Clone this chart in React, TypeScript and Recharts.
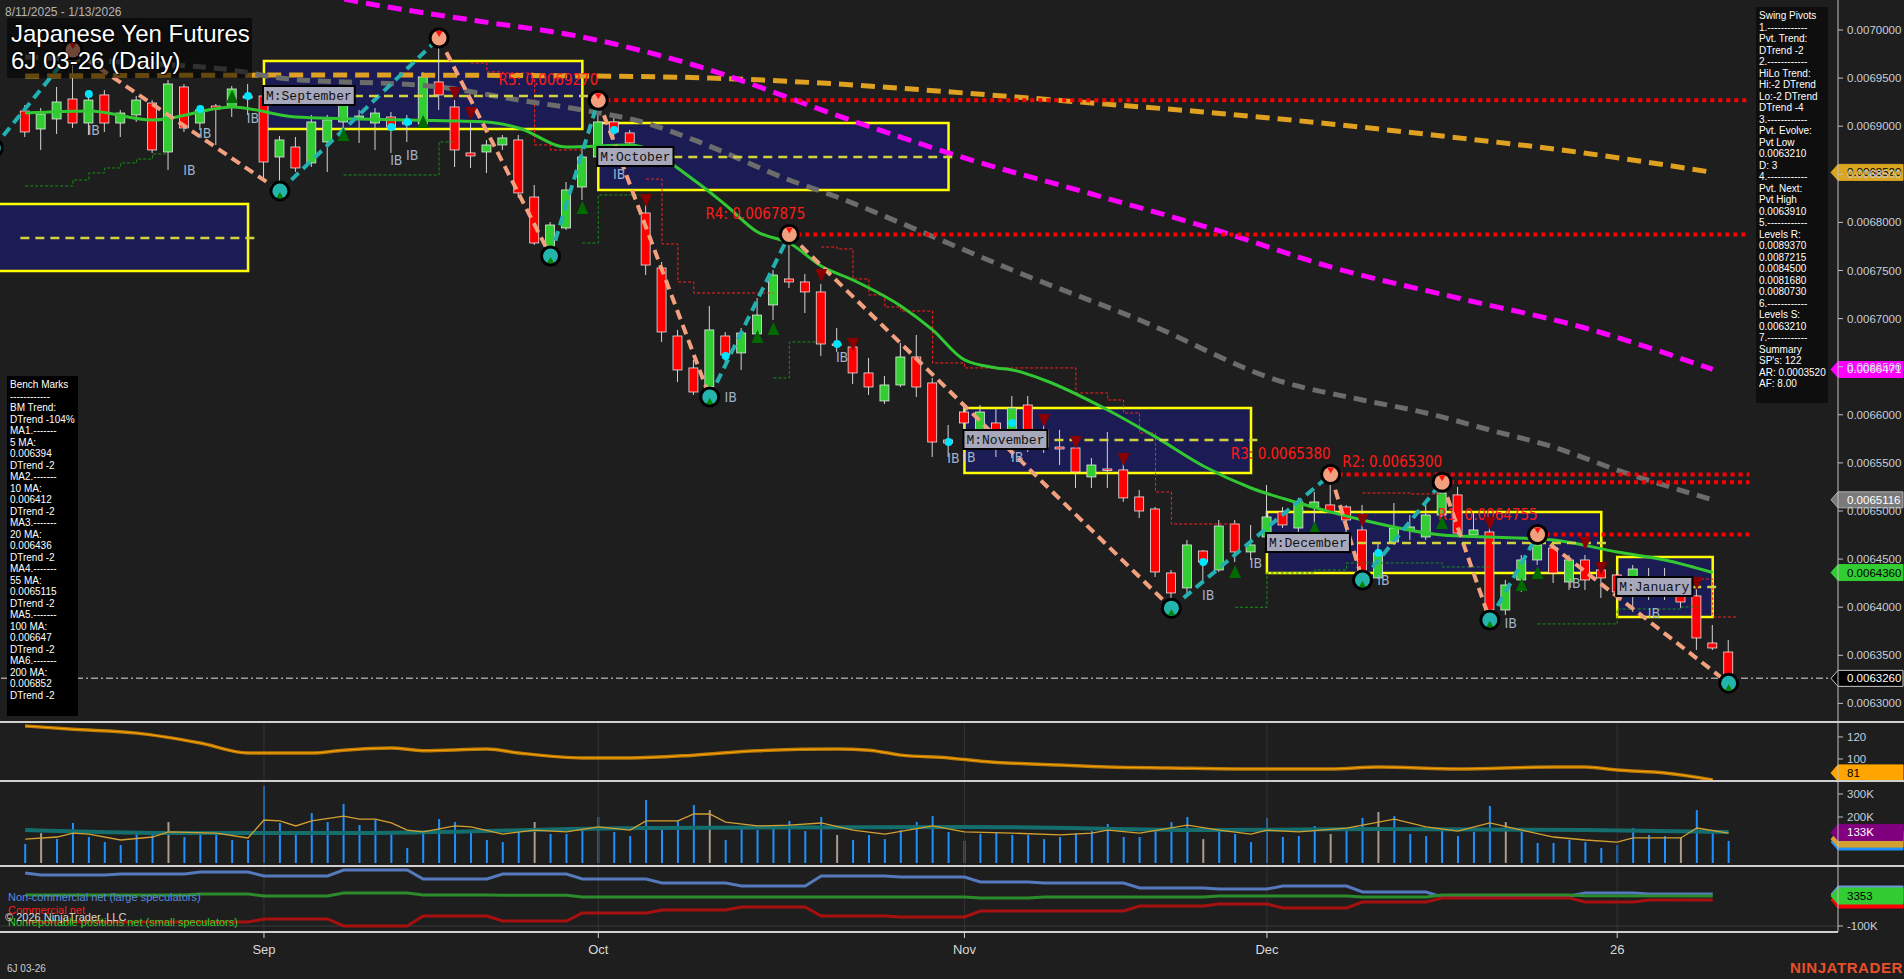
import React from "react";
import {
  ComposedChart,
  Bar,
  Line,
  XAxis,
  YAxis,
  ReferenceArea,
  ReferenceLine,
  ReferenceDot,
  Cell,
} from "recharts";

const FONT = "'Liberation Sans', Arial, sans-serif";
const NARROW = "'Liberation Sans Narrow', 'DejaVu Sans Condensed', 'Liberation Sans', Arial, sans-serif";
const MONO = "'Liberation Mono', 'Courier New', monospace";

// daily bars 8/11/2025 .. 1/13/2026 (bar index 0..107)
const opens = [
  0.0069158, 0.0068971, 0.0069075, 0.0069283, 0.0069033, 0.0069325, 0.0069033, 0.0069117, 0.0069241, 0.0068732,
  0.0069408, 0.0069033, 0.006921, 0.00692, 0.0069293, 0.0069314, 0.006868, 0.0068784, 0.0068618, 0.0068836,
  0.0069044, 0.0069085, 0.0069033, 0.0069096, 0.0069065, 0.0069023, 0.006946, 0.00692, 0.0068722, 0.0068732,
  0.0068805, 0.0068857, 0.0068264, 0.0067682, 0.0067942, 0.0068368, 0.006868, 0.0069044, 0.006893, 0.0068098,
  0.0067526, 0.0066819, 0.0066487, 0.0066289, 0.0066819, 0.0066643, 0.006684, 0.0067142, 0.0067412, 0.0067381,
  0.0067277, 0.0066736, 0.0066705, 0.0066435, 0.0066144, 0.006631, 0.0066601, 0.0066331, 0.0065738, 0.0066029,
  0.0065843, 0.0065915, 0.0065665, 0.0066102, 0.0065843, 0.0065665, 0.0065655, 0.0065354, 0.0065437, 0.0065427,
  0.0065146, 0.0065021, 0.0064356, 0.00642, 0.0064584, 0.0064387, 0.0064865, 0.0064574, 0.006473, 0.006499,
  0.0064823, 0.0065042, 0.0065063, 0.0065042, 0.0064803, 0.0064304, 0.0064678, 0.0064803, 0.006473, 0.0064958,
  0.0065167, 0.0064751, 0.0064782, 0.0063971, 0.0064283, 0.0064491, 0.0064615, 0.0064262, 0.0064491, 0.0064387,
  0.0064335, 0.0064148, 0.0064231, 0.0064179, 0.006421, 0.0064117, 0.0063628, 0.0063534,
];
const highs = [
  0.006922, 0.0069189, 0.0069408, 0.0069792, 0.0069356, 0.0069376, 0.0069169, 0.0069314, 0.0069272, 0.006948,
  0.0069439, 0.006922, 0.0069231, 0.0069418, 0.0069439, 0.0069356, 0.0068898, 0.0068888, 0.0069117, 0.0069117,
  0.0069293, 0.0069169, 0.0069189, 0.0069148, 0.0069117, 0.0069564, 0.0069917, 0.0069272, 0.0069065, 0.0068857,
  0.0068909, 0.0068909, 0.0068389, 0.0068004, 0.006842, 0.0068784, 0.006927, 0.0069117, 0.0068961, 0.0068233,
  0.0067589, 0.0066882, 0.006657, 0.0067131, 0.0066861, 0.0066902, 0.0067214, 0.0067505, 0.0067875, 0.0067464,
  0.006736, 0.0066902, 0.0066747, 0.0066591, 0.0066403, 0.0066747, 0.006683, 0.0066382, 0.0065894, 0.0066102,
  0.0066102, 0.0066071, 0.0066195, 0.0066195, 0.0065946, 0.0065843, 0.0065759, 0.0065551, 0.0065821, 0.0065562,
  0.0065218, 0.0065042, 0.0064387, 0.0064699, 0.0064595, 0.0064907, 0.0064907, 0.0064855, 0.006527, 0.0065042,
  0.0065136, 0.0065198, 0.006538, 0.0065063, 0.0065063, 0.0064667, 0.0065083, 0.0064958, 0.0065063, 0.00653,
  0.006525, 0.0064979, 0.0064907, 0.0064283, 0.0064543, 0.0064755, 0.0064699, 0.0064543, 0.0064543, 0.006447,
  0.0064387, 0.0064439, 0.0064408, 0.0064408, 0.0064262, 0.0064252, 0.0063815, 0.0063659,
];
const lows = [
  0.0068888, 0.0068753, 0.0068919, 0.0068982, 0.0068909, 0.006894, 0.0068888, 0.0069044, 0.0068722, 0.0068545,
  0.006894, 0.0068961, 0.0068805, 0.0069096, 0.0069117, 0.0068462, 0.0068327, 0.0068524, 0.0068576, 0.0068524,
  0.0068982, 0.0068826, 0.0068753, 0.0068722, 0.0068836, 0.0068982, 0.0069169, 0.0068576, 0.0068566, 0.0068514,
  0.0068753, 0.0068254, 0.0067765, 0.0067651, 0.0067921, 0.0068233, 0.0068649, 0.0068857, 0.0068597, 0.0067453,
  0.0066757, 0.0066341, 0.0066206, 0.0066185, 0.0066549, 0.0066466, 0.0066819, 0.0066986, 0.0067318, 0.0067058,
  0.0066612, 0.0066653, 0.006632, 0.0066206, 0.0066112, 0.0066289, 0.0066185, 0.0065562, 0.0065562, 0.0065738,
  0.0065665, 0.0065562, 0.0065551, 0.0065613, 0.0065603, 0.0065478, 0.0065239, 0.0065239, 0.0065239, 0.0065094,
  0.0064927, 0.0064314, 0.006399, 0.0064127, 0.0064262, 0.0064366, 0.006447, 0.0064491, 0.0064699, 0.0064823,
  0.0064782, 0.0064875, 0.0064979, 0.0064615, 0.0064283, 0.0064295, 0.0064647, 0.0064699, 0.0064699, 0.0064938,
  0.0064751, 0.006473, 0.0063867, 0.0063919, 0.0064158, 0.0064439, 0.0064252, 0.0064179, 0.0064179, 0.0064096,
  0.0064075, 0.006395, 0.0064075, 0.0064075, 0.0063992, 0.0063555, 0.0063555, 0.006321,
];
const closes = [
  0.006894, 0.0069127, 0.0069252, 0.0069033, 0.0069272, 0.0069033, 0.0069137, 0.0069272, 0.0068753, 0.0069439,
  0.0068982, 0.0069169, 0.0069179, 0.0069387, 0.0069314, 0.0068628, 0.0068857, 0.0068566, 0.0069044, 0.0069065,
  0.0069241, 0.0069106, 0.0069137, 0.0068992, 0.0069023, 0.0069512, 0.0069325, 0.0068753, 0.0068691, 0.0068805,
  0.0068878, 0.0068306, 0.0067786, 0.0067973, 0.0068337, 0.006868, 0.0069044, 0.006894, 0.0068826, 0.0067557,
  0.0066861, 0.0066466, 0.0066237, 0.0066882, 0.0066622, 0.006685, 0.0067037, 0.0067453, 0.0067381, 0.0067277,
  0.0066736, 0.0066726, 0.0066435, 0.0066289, 0.006631, 0.0066601, 0.0066289, 0.0065717, 0.0065707, 0.0065915,
  0.0066029, 0.0065665, 0.0066071, 0.0065686, 0.0065665, 0.0065645, 0.0065406, 0.0065478, 0.0065427, 0.0065136,
  0.0065, 0.0064366, 0.0064148, 0.0064647, 0.006447, 0.0064844, 0.0064574, 0.0064647, 0.0064938, 0.0064855,
  0.0065094, 0.0065094, 0.006499, 0.0064907, 0.0064366, 0.0064564, 0.0064823, 0.0064834, 0.0064958, 0.0065187,
  0.0064771, 0.0064803, 0.0063971, 0.0064231, 0.0064491, 0.0064647, 0.0064356, 0.0064491, 0.0064283, 0.0064304,
  0.0064158, 0.0064397, 0.0064179, 0.0064262, 0.0064054, 0.006368, 0.0063576, 0.006326,
];
const volumeK = [
  83, 130, 104, 174, 113, 91, 78, 126, 130, 178, 113, 130, 130, 100, 100, 335, 174, 122, 217, 178,
  257, 165, 187, 135, 65, 135, 191, 178, 135, 100, 91, 148, 178, 126, 126, 152, 200, 135, 117, 274,
  161, 183, 252, 230, 100, 157, 143, 165, 183, 139, 200, 122, 100, 122, 104, 143, 178, 204, 135, 96,
  126, 135, 122, 122, 104, 113, 130, 139, 170, 113, 113, 143, 178, 200, 104, 139, 126, 91, 196, 113,
  117, 161, 126, 152, 196, 222, 204, 126, 117, 152, 117, 135, 248, 178, 135, 87, 87, 100, 91, 65,
  78, 152, 122, 117, 113, 230, 130, 96,
];
const grayVolumeBars = [1, 9, 32, 43, 51, 74, 82, 85, 93, 104];

const monthTickIdx = [15, 36, 59, 78, 100];
const monthTickLabels = ["Sep", "Oct", "Nov", "Dec", "26"];
const priceTicks = [
  0.0063, 0.00635, 0.0064, 0.00645, 0.0065, 0.00655, 0.0066, 0.00665, 0.0067, 0.00675, 0.0068, 0.00685,
  0.0069, 0.00695, 0.007,
];

// moving averages, read at sample bars
const ma20Idx = [0, 4, 8, 13, 17, 24, 29, 31, 34, 38, 42, 44, 46, 48, 50, 52, 55, 57, 59, 61, 62, 64, 68, 71, 74, 77, 80, 84, 89, 92, 96, 100, 103, 106];
const ma20Val = [
  0.0069137, 0.0069158, 0.0069065, 0.00692, 0.0069096, 0.0069065, 0.0069044, 0.0068982, 0.0068784, 0.0068805,
  0.0068441, 0.0068181, 0.00679, 0.0067786, 0.0067547, 0.0067401, 0.0067131, 0.0066882, 0.006657, 0.0066487,
  0.0066466, 0.0066362, 0.006605, 0.006577, 0.0065468, 0.0065239, 0.0065083, 0.0064907, 0.0064751, 0.006473,
  0.0064699, 0.0064574, 0.0064491, 0.006436,
];
const ma55Idx = [0, 7, 13, 16, 26, 31, 35, 39, 42, 48, 51, 55, 59, 62, 70, 79, 84, 88, 92, 96, 100, 106];
const ma55Val = [
  0.006972, 0.0069657, 0.0069584, 0.0069501, 0.0069408, 0.0069272, 0.0069169, 0.0069033, 0.0068857, 0.0068441,
  0.0068264, 0.0067994, 0.0067713, 0.0067505, 0.0066986, 0.0066341, 0.0066154, 0.0066019, 0.0065842, 0.0065665,
  0.0065426, 0.0065116,
];
const ma100Idx = [16, 21, 28, 35, 42, 52, 59, 67, 75, 82, 90, 98, 106];
const ma100Val = [
  0.0070468, 0.0070291, 0.0070104, 0.0069927, 0.0069636, 0.0069054, 0.006867, 0.0068295, 0.0067911, 0.0067537,
  0.0067214, 0.0066902, 0.0066471,
];
const ma200Idx = [0, 20, 35, 43, 51, 59, 67, 74, 82, 89, 97, 106];
const ma200Val = [
  0.0069522, 0.0069532, 0.0069522, 0.0069501, 0.0069439, 0.0069345, 0.0069241, 0.0069148, 0.0069023, 0.0068898,
  0.0068742, 0.006852,
];

// swing pivots (first one lies left of the visible range)
const pivotIdx = [-2, 3, 16, 26, 33, 36, 43, 48, 72, 82, 84, 89, 92, 95, 107];
const pivotPx = [
  0.0068774, 0.0069792, 0.0068327, 0.0069917, 0.0067651, 0.006927, 0.0066185, 0.0067875, 0.006399, 0.006538,
  0.0064283, 0.00653, 0.0063867, 0.0064755, 0.006321,
];

// resistance levels
const resNames = ["R5", "R4", "R3", "R2", "R1"];
const resValues = [0.006927, 0.0067875, 0.006538, 0.00653, 0.0064755];
const resFrom = [36, 48, 82, 89, 95];
const resLabelAt = [36, 49, 82, 89, 95];

// monthly range boxes
const boxNames = ["", "M:September", "M:October", "M:November", "M:December", "M:January"];
const boxStart = [-3, 15, 36, 59, 78, 100];
const boxEnd = [14, 35, 58, 77, 99, 106];
const boxTop = [0.0068191, 0.0069678, 0.0069033, 0.0066071, 0.006499, 0.0064522];
const boxBottom = [0.0067495, 0.0068971, 0.0068337, 0.0065395, 0.0064356, 0.0063898];
const boxMid = [0.0067838, 0.0069314, 0.006868, 0.0065738, 0.0064667, 0.006421];

// trailing stop steps
const greenStopIdx = [[0, 3, 4, 5, 6, 7, 8, 9], [20, 26, 27], [35, 36, 39], [47, 48, 50], [76, 78, 81, 83, 89, 92], [95, 100, 104, 105]];
const greenStopVal = [
  [0.0068379, 0.0068441, 0.0068514, 0.0068566, 0.0068618, 0.0068659, 0.0068711, 0.0068711],
  [0.0068493, 0.0068836, 0.0068836],
  [0.0067786, 0.0068285, 0.0068295],
  [0.0066383, 0.0066757, 0.0066767],
  [0.0063999, 0.0064356, 0.0064387, 0.006446, 0.0064418, 0.0064418],
  [0.0063826, 0.0063981, 0.0064002, 0.0064002],
];
const redStopIdx = [[28, 29, 30, 32, 33, 35], [39, 40, 41, 42, 47], [50, 51, 52, 53, 54, 55, 57, 59, 66, 68, 69, 70, 71, 72, 76], [84, 87, 89], [104, 106, 107.5]];
const redStopVal = [
  [0.0069657, 0.0069564, 0.0069553, 0.0068805, 0.0068753, 0.0068753],
  [0.0068451, 0.0067776, 0.0067381, 0.0067266, 0.0067266],
  [0.0067744, 0.0067724, 0.0067412, 0.0067246, 0.0067121, 0.0067079, 0.0066539, 0.0066487, 0.0066227, 0.0066154, 0.0066019, 0.0065811, 0.0065198, 0.0064865, 0.0064865],
  [0.0065187, 0.0065177, 0.0065177],
  [0.0064293, 0.0063898, 0.0063898],
];

// markers
const cyanIdx = [4, 11, 14, 23, 24, 37, 44, 51, 58, 62, 74, 85];
const cyanPx = [0.0069335, 0.0069179, 0.0069314, 0.0068992, 0.0069044, 0.0068961, 0.0066612, 0.0066736, 0.0065717, 0.0065915, 0.006447, 0.0064564];
const ibIdx = [4, 10, 11, 14, 23, 24, 37, 44, 51, 58, 59, 62, 74, 77, 85, 93, 97, 102];
const ibPx = [
  0.0068961, 0.0068545, 0.006893, 0.0069085, 0.0068649, 0.0068701, 0.0068503, 0.0066185, 0.0066601, 0.0065551,
  0.0065562, 0.0065562, 0.0064127, 0.006446, 0.0064283, 0.0063836, 0.0064252, 0.006394,
];
const upTriIdx = [13, 20, 25, 35, 46, 47, 76, 81, 89, 94, 95];
const upTriPx = [0.0069304, 0.0068909, 0.0069044, 0.006815, 0.0066809, 0.0066892, 0.0064366, 0.0064823, 0.0064875, 0.0064231, 0.0064356];
const downTriIdx = [27, 28, 39, 50, 52, 64, 66, 69, 84, 92, 98, 99, 105];
const downTriPx = [0.0069345, 0.0069137, 0.0068233, 0.0067453, 0.0066736, 0.0065946, 0.0065717, 0.0065541, 0.0064907, 0.0064875, 0.0064667, 0.0064408, 0.0064252];

// lower panels
const oscIdx = [0, 3, 7, 11, 14, 18, 20, 23, 25, 29, 31, 35, 38, 42, 46, 51, 53, 55, 58, 60, 65, 68, 72, 76, 82, 85, 90, 96, 98, 100, 103, 106];
const oscVal = [130, 127, 123.5, 114.5, 105.5, 105.5, 108, 110, 107.5, 109, 105.5, 101, 101, 103.5, 107.5, 109, 108, 103.5, 101, 98, 94.5, 92.7, 91.8, 91, 91, 92.7, 91, 92.7, 92.7, 90, 87.3, 81];
const volMaIdx = [0, 2, 3, 4, 6, 8, 9, 12, 14, 15, 16, 17, 18, 20, 21, 22, 23, 24, 25, 27, 28, 30, 32, 34, 36, 38, 39, 41, 42, 43, 44, 46, 48, 50, 52, 54, 57, 59, 62, 65, 67, 68, 70, 73, 75, 77, 78, 80, 83, 86, 88, 90, 92, 94, 96, 98, 100, 101, 104, 105, 107];
const volMaVal = [104, 113, 130, 126, 100, 113, 135, 130, 109, 187, 183, 161, 183, 204, 191, 191, 174, 143, 135, 161, 157, 126, 143, 135, 157, 143, 183, 183, 213, 213, 178, 161, 165, 174, 143, 126, 161, 135, 130, 122, 130, 143, 130, 165, 143, 126, 143, 135, 152, 191, 157, 139, 174, 143, 113, 100, 91, 109, 109, 152, 130];
const volSlowIdx = [0, 9, 20, 39, 59, 75, 85, 98, 107];
const volSlowVal = [143, 130, 130, 152, 157, 143, 148, 143, 135];

const cotNcIdx = [0, 1, 5, 6, 10, 11, 14, 15, 19, 20, 24, 25, 29, 30, 34, 35, 39, 40, 44, 45, 49, 50, 54, 55, 59, 60, 63, 64, 69, 70, 74, 75, 78, 79, 83, 84, 88, 89, 93, 94, 97, 98, 101, 102, 106];
const cotNcVal = [82.6, 75.7, 75.7, 79.1, 79.1, 86, 86, 72.3, 72.3, 92.9, 92.9, 61.9, 61.9, 79.1, 79.1, 61.9, 61.9, 48.1, 48.1, 37.8, 37.8, 72.3, 72.3, 68.8, 68.8, 51.6, 51.6, 48.1, 48.1, 30.9, 30.9, 27.5, 27.5, 37.8, 37.8, 17.1, 17.1, -0.1, -0.1, 3.4, 3.4, 13.7, 13.7, 10.2, 10.2];
const cotSmIdx = [0, 10, 11, 14, 15, 19, 20, 24, 25, 29, 30, 34, 35, 59, 60, 63, 64, 74, 75, 83, 84, 88, 89, 97, 98, 106];
const cotSmVal = [6.8, 6.8, 10.2, 10.2, 3.4, 3.4, 13.7, 13.7, 6.8, 6.8, 5.8, 5.8, 0, 0, -3.5, -3.5, 0, 0, 3.4, 3.4, 0, 0, 6.8, 6.8, 4.5, 3.353];
const cotCmIdx = [0, 14, 15, 19, 20, 24, 25, 29, 30, 34, 35, 39, 40, 44, 45, 49, 50, 54, 55, 59, 60, 69, 70, 74, 75, 78, 79, 83, 84, 88, 89, 97, 98, 101, 102, 106];
const cotCmVal = [-86.2, -86.2, -75.9, -75.9, -100, -100, -65.5, -65.5, -82.8, -82.8, -55.2, -55.2, -44.9, -44.9, -34.5, -34.5, -65.5, -65.5, -69, -69, -48.3, -48.3, -31.1, -31.1, -24.2, -24.2, -38, -38, -17.3, -17.3, -3.5, -3.5, -17.3, -17.3, -10.4, -10.4];

const swingLines = ["Swing Pivots", "1.------------", "Pvt. Trend:", "DTrend -2", "2.------------", "HiLo Trend:", "Hi:-2 DTrend", "Lo:-2 DTrend", "DTrend -4", "3.------------", "Pvt. Evolve:", "Pvt Low", "0.0063210", "D: 3", "4.------------", "Pvt. Next:", "Pvt High", "0.0063910", "5.------------", "Levels R:", "0.0089370", "0.0087215", "0.0084500", "0.0081680", "0.0080730", "6.------------", "Levels S:", "0.0063210", "7.------------", "Summary", "SP's: 122", "AR: 0.0003520", "AF: 8.00"];
const benchLines = ["Bench Marks", "------------", "BM Trend:", "DTrend -104%", "MA1.-------", "5 MA:", "0.006394", "DTrend -2", "MA2.-------", "10 MA:", "0.006412", "DTrend -2", "MA3.-------", "20 MA:", "0.006436", "DTrend -2", "MA4.-------", "55 MA:", "0.0065115", "DTrend -2", "MA5.-------", "100 MA:", "0.006647", "DTrend -2", "MA6.-------", "200 MA:", "0.006852", "DTrend -2"];

const X_DOMAIN: [number, number] = [-1.58, 113.87];
const PRICE_DOMAIN: [number, number] = [0.00628065, 0.00703119];
const AXIS_W = 66;
const MARGIN = { top: 0, right: 0, bottom: 0, left: 0 };

const pts = (idx: number[], val: number[]) => idx.map((i, k) => ({ i, v: val[k] }));

const Candle = (props: any) => {
  const { x, y, width, height, payload } = props;
  if (x == null || !payload) return null;
  const top = Math.min(y, y + height);
  const h = Math.abs(height);
  const span = payload.h - payload.l;
  const k = span > 0 ? h / span : 0;
  const yO = top + (payload.h - payload.o) * k;
  const yC = top + (payload.h - payload.c) * k;
  const cx = x + width / 2;
  const up = payload.c >= payload.o;
  return (
    <g>
      <line x1={cx} x2={cx} y1={top} y2={top + h} stroke="#d4d4d4" strokeWidth={1} />
      <rect x={cx - 4.5} y={Math.min(yO, yC)} width={9} height={Math.max(1.5, Math.abs(yC - yO))} fill={up ? "#32cd32" : "#ff0000"} stroke="#e6e6e6" strokeWidth={0.8} />
    </g>
  );
};

function priceTag(text: string, fill: string, color: string, stroke?: string, dy = 0) {
  return (props: any) => {
    const vb = props.viewBox || {};
    const x = (vb.x || 0) + (vb.width || 0);
    const y = (vb.y || 0) + dy;
    return (
      <g>
        <path d={`M${x - 7},${y} L${x},${y - 8} L${x + 65},${y - 8} L${x + 65},${y + 8} L${x},${y + 8} Z`} fill={fill} stroke={stroke || fill} strokeWidth={1} />
        <text x={x + 9} y={y + 4} fill={color} fontSize={11.5} fontFamily={FONT}>{text}</text>
      </g>
    );
  };
}

function monthLabel(text: string) {
  return (props: any) => {
    const { x, y } = props.viewBox;
    return (
      <g>
        <rect x={x} y={y - 9} width={text.length * 7.8 + 6} height={19} fill="#a8a8bc" stroke="#000" strokeWidth={2} />
        <text x={x + 3} y={y + 5} fontFamily={MONO} fontSize={13} fill="#111">{text}</text>
      </g>
    );
  };
}

function levelLabel(text: string) {
  return (props: any) => {
    const { x, y } = props.viewBox;
    return (
      <text x={x + 1} y={y - 14} textAnchor="end" fill="#ff1a1a" fontSize={15} fontFamily={NARROW}>{text}</text>
    );
  };
}

const PivotDot = (props: any) => {
  const { cx, cy, payload, index } = props;
  if (cx == null || cy == null) return <g key={`pv${index}`} />;
  const hi = payload.kind === "H";
  return (
    <g key={`pv${index}`}>
      <circle cx={cx} cy={cy} r={10.5} fill="#000" />
      <circle cx={cx} cy={cy} r={7.5} fill={hi ? "#f2a07e" : "#25b3ad"} />
      {hi ? (
        <path d={`M${cx - 3.5},${cy - 7} L${cx + 3.5},${cy - 7} L${cx},${cy - 1} Z`} fill="#ff1010" />
      ) : (
        <path d={`M${cx - 3.5},${cy + 7} L${cx + 3.5},${cy + 7} L${cx},${cy + 1} Z`} fill="#008800" />
      )}
    </g>
  );
};

const CyanDot = (props: any) => {
  const { cx, cy, index } = props;
  if (cx == null) return <g key={`cy${index}`} />;
  return <circle key={`cy${index}`} cx={cx} cy={cy} r={4} fill="#00e5ff" />;
};
const IbText = (props: any) => {
  const { cx, cy, index } = props;
  if (cx == null) return <g key={`ib${index}`} />;
  return (
    <text key={`ib${index}`} x={cx + 5} y={cy + 5} textAnchor="middle" fill="#9fb2cc" fontSize={14} fontFamily={NARROW}>IB</text>
  );
};
const UpTri = (props: any) => {
  const { cx, cy, index } = props;
  if (cx == null) return <g key={`ut${index}`} />;
  return <path key={`ut${index}`} d={`M${cx - 6},${cy + 6} L${cx + 6},${cy + 6} L${cx},${cy - 7} Z`} fill="#006a00" />;
};
const DownTri = (props: any) => {
  const { cx, cy, index } = props;
  if (cx == null) return <g key={`dt${index}`} />;
  return <path key={`dt${index}`} d={`M${cx - 6},${cy - 6} L${cx + 6},${cy - 6} L${cx},${cy + 7} Z`} fill="#8b0000" />;
};

const xAxisHidden = <XAxis dataKey="i" type="number" domain={X_DOMAIN} allowDataOverflow hide />;

export default function App() {
  const bars = opens.map((o, i) => ({
    i,
    o,
    h: highs[i],
    l: lows[i],
    c: closes[i],
    range: [lows[i], highs[i]],
    vol: volumeK[i],
  }));
  const pivots = pivotIdx.map((i, k) => ({ i, v: pivotPx[k], kind: k % 2 === 0 ? "L" : "H" }));
  const legs = pivots.slice(1).map((p, k) => ({ a: pivots[k], b: p, up: pivots[k].kind === "L" }));
  const axisTick = { fill: "#c5cedb", fontSize: 11.5, fontFamily: FONT };

  const textBox: React.CSSProperties = {
    position: "absolute",
    color: "#fff",
    fontSize: 10,
    lineHeight: "11.5px",
    fontFamily: FONT,
    whiteSpace: "pre",
  };

  return (
    <div style={{ position: "absolute", left: 0, top: 0, width: 1904, height: 979, background: "#1e1e1e", overflow: "hidden", fontFamily: FONT }}>
      {/* price panel */}
      <div style={{ position: "absolute", left: 0, top: 0 }}>
        <ComposedChart width={1904} height={722} data={bars} margin={MARGIN}>
          {xAxisHidden}
          <YAxis
            orientation="right"
            width={AXIS_W}
            type="number"
            domain={PRICE_DOMAIN}
            allowDataOverflow
            ticks={priceTicks}
            tickFormatter={(v: number) => v.toFixed(7)}
            tick={axisTick}
            tickSize={5}
            tickMargin={4}
            axisLine={{ stroke: "#c0c0c0" }}
            tickLine={{ stroke: "#c0c0c0" }}
          />
          <ReferenceLine y={closes[closes.length - 1]} stroke="#a0a0a0" strokeWidth={1.5} strokeDasharray="7 3 2 3" />

          {greenStopIdx.map((idx, k) => (
            <Line key={`gs${k}`} data={pts(idx, greenStopVal[k])} dataKey="v" type="stepAfter" stroke="#189018" strokeWidth={1} strokeDasharray="3 2" dot={false} activeDot={false} isAnimationActive={false} />
          ))}
          {redStopIdx.map((idx, k) => (
            <Line key={`rs${k}`} data={pts(idx, redStopVal[k])} dataKey="v" type="stepAfter" stroke="#ff2020" strokeWidth={1} strokeDasharray="3 2" dot={false} activeDot={false} isAnimationActive={false} />
          ))}

          <Line data={pts(ma200Idx, ma200Val)} dataKey="v" type="monotone" stroke="#e0a020" strokeWidth={5} strokeDasharray="14 8" dot={false} activeDot={false} isAnimationActive={false} />
          <Line data={pts(ma100Idx, ma100Val)} dataKey="v" type="monotone" stroke="#ff00ff" strokeWidth={5} strokeDasharray="14 8" dot={false} activeDot={false} isAnimationActive={false} />
          <Line data={pts(ma55Idx, ma55Val)} dataKey="v" type="monotone" stroke="#6c6c6c" strokeWidth={5} strokeDasharray="13 8" dot={false} activeDot={false} isAnimationActive={false} />

          <Bar dataKey="range" barSize={9} shape={<Candle />} isAnimationActive={false} />

          <Line data={pts(ma20Idx, ma20Val)} dataKey="v" type="monotone" stroke="#32c832" strokeWidth={3} dot={false} activeDot={false} isAnimationActive={false} />

          {legs.map((lg, k) => (
            <Line key={`leg${k}`} data={[lg.a, lg.b]} dataKey="v" type="linear" stroke={lg.up ? "#22b0b0" : "#f2a07e"} strokeWidth={4} strokeDasharray="10 6" dot={false} activeDot={false} isAnimationActive={false} />
          ))}

          {resValues.map((v, k) => (
            <ReferenceLine key={`rl${k}`} segment={[{ x: resFrom[k], y: v }, { x: 108.3, y: v }]} stroke="#ff0000" strokeWidth={4} strokeDasharray="4 4" />
          ))}
          {resValues.map((v, k) => (
            <ReferenceDot key={`rlab${k}`} x={resLabelAt[k]} y={v} r={1} fill="none" stroke="none" label={levelLabel(`${resNames[k]}: ${v.toFixed(7)}`)} />
          ))}

          <Line data={pts(cyanIdx, cyanPx)} dataKey="v" stroke="none" dot={CyanDot} activeDot={false} isAnimationActive={false} />
          <Line data={pts(upTriIdx, upTriPx)} dataKey="v" stroke="none" dot={UpTri} activeDot={false} isAnimationActive={false} />
          <Line data={pts(downTriIdx, downTriPx)} dataKey="v" stroke="none" dot={DownTri} activeDot={false} isAnimationActive={false} />
          <Line data={pts(ibIdx, ibPx)} dataKey="v" stroke="none" dot={IbText} activeDot={false} isAnimationActive={false} />
          <Line data={pivots} dataKey="v" stroke="none" dot={PivotDot} activeDot={false} isAnimationActive={false} />

          {boxStart.map((s, k) => (
            <ReferenceArea key={`bx${k}`} x1={s} x2={boxEnd[k]} y1={boxBottom[k]} y2={boxTop[k]} fill="#1a1a78" fillOpacity={0.6} stroke="#ffff00" strokeWidth={2.5} ifOverflow="hidden" />
          ))}
          {boxStart.map((s, k) => (
            <ReferenceLine key={`bm${k}`} segment={[{ x: Math.max(s, -0.3), y: boxMid[k] }, { x: boxEnd[k] + 0.4, y: boxMid[k] }]} stroke="#d2d23c" strokeWidth={2.5} strokeDasharray="9 6" ifOverflow="hidden" />
          ))}
          {boxStart.map((s, k) =>
            boxNames[k] ? (
              <ReferenceDot key={`bl${k}`} x={s} y={boxMid[k]} r={1} fill="none" stroke="none" label={monthLabel(boxNames[k])} />
            ) : null
          )}

          <ReferenceLine y={ma200Val[ma200Val.length - 1]} stroke="none" label={priceTag("0.0068520", "#daa520", "#000")} />
          <ReferenceLine y={ma100Val[ma100Val.length - 1]} stroke="none" label={priceTag("0.0066471", "#ff00ff", "#fff")} />
          <ReferenceLine y={ma55Val[ma55Val.length - 1]} stroke="none" label={priceTag("0.0065116", "#7a7a7a", "#fff", "#b0b0b0")} />
          <ReferenceLine y={ma20Val[ma20Val.length - 1]} stroke="none" label={priceTag("0.0064360", "#32cd32", "#000")} />
          <ReferenceLine y={closes[closes.length - 1]} stroke="none" label={priceTag("0.0063260", "#000", "#fff", "#c8c8c8")} />
        </ComposedChart>
      </div>

      {/* oscillator panel */}
      <div style={{ position: "absolute", left: 0, top: 722 }}>
        <ComposedChart width={1904} height={59} data={bars} margin={MARGIN}>
          {xAxisHidden}
          <YAxis orientation="right" width={AXIS_W} type="number" domain={[80, 133.6]} allowDataOverflow ticks={[100, 120]} tick={axisTick} tickSize={5} tickMargin={4} axisLine={{ stroke: "#c0c0c0" }} tickLine={{ stroke: "#c0c0c0" }} />
          {monthTickIdx.map((m) => (
            <ReferenceLine key={`o${m}`} x={m} stroke="#333" />
          ))}
          <Line data={pts(oscIdx, oscVal)} dataKey="v" type="monotone" stroke="#b87808" strokeWidth={3.5} dot={false} activeDot={false} isAnimationActive={false} />
          <Line data={pts(oscIdx, oscVal)} dataKey="v" type="monotone" stroke="#ffa500" strokeWidth={1} dot={false} activeDot={false} isAnimationActive={false} />
          <ReferenceLine y={81} stroke="none" label={priceTag("81", "#ffa500", "#000", "#ffa500", -7)} />
        </ComposedChart>
      </div>

      {/* volume panel */}
      <div style={{ position: "absolute", left: 0, top: 781 }}>
        <ComposedChart width={1904} height={85} data={bars} margin={MARGIN}>
          {xAxisHidden}
          <YAxis orientation="right" width={AXIS_W} type="number" domain={[-13, 356.5]} allowDataOverflow ticks={[200, 300]} tickFormatter={(v: number) => `${v}K`} tick={axisTick} tickSize={5} tickMargin={4} axisLine={{ stroke: "#c0c0c0" }} tickLine={{ stroke: "#c0c0c0" }} />
          {monthTickIdx.map((m) => (
            <ReferenceLine key={`v${m}`} x={m} stroke="#333" />
          ))}
          <Bar dataKey="vol" barSize={2} isAnimationActive={false}>
            {bars.map((b) => (
              <Cell key={`c${b.i}`} fill={grayVolumeBars.includes(b.i) ? "#a89c8c" : "#1e90ff"} />
            ))}
          </Bar>
          <Line data={pts(volSlowIdx, volSlowVal)} dataKey="v" type="monotone" stroke="#146e6e" strokeWidth={4} dot={false} activeDot={false} isAnimationActive={false} />
          <Line data={pts(volMaIdx, volMaVal)} dataKey="v" type="linear" stroke="#d4a030" strokeWidth={1.3} dot={false} activeDot={false} isAnimationActive={false} />
          <ReferenceLine y={91.372} stroke="none" label={priceTag("91372", "#1e90ff", "#fff")} />
          <ReferenceLine y={104} stroke="none" label={priceTag("", "#d4a030", "#000")} />
          <ReferenceLine y={133} stroke="none" label={priceTag("133K", "#800080", "#fff")} />
        </ComposedChart>
      </div>

      {/* COT panel + time axis */}
      <div style={{ position: "absolute", left: 0, top: 866 }}>
        <ComposedChart width={1904} height={113} data={bars} margin={MARGIN}>
          <XAxis
            dataKey="i"
            type="number"
            domain={X_DOMAIN}
            allowDataOverflow
            ticks={monthTickIdx}
            interval={0}
            tickFormatter={(v: number) => monthTickLabels[monthTickIdx.indexOf(v)] || ""}
            height={47}
            tickSize={6}
            tickMargin={7}
            tick={{ fill: "#d8d8d8", fontSize: 13, fontFamily: FONT }}
            axisLine={{ stroke: "#d0d0d0", strokeWidth: 2 }}
            tickLine={{ stroke: "#d0d0d0" }}
          />
          <YAxis orientation="right" width={AXIS_W} type="number" domain={[-120.7, 106.7]} allowDataOverflow ticks={[-100]} tickFormatter={(v: number) => `${v}K`} tick={axisTick} tickSize={5} tickMargin={4} axisLine={{ stroke: "#c0c0c0" }} tickLine={{ stroke: "#c0c0c0" }} />
          {monthTickIdx.map((m) => (
            <ReferenceLine key={`c${m}`} x={m} stroke="#333" />
          ))}
          <ReferenceLine y={-100} stroke="#3a3a3a" />
          <Line data={pts(cotNcIdx, cotNcVal)} dataKey="v" type="linear" stroke="#5479bd" strokeWidth={3} dot={false} activeDot={false} isAnimationActive={false} />
          <Line data={pts(cotSmIdx, cotSmVal)} dataKey="v" type="linear" stroke="#2a8c2a" strokeWidth={3} dot={false} activeDot={false} isAnimationActive={false} />
          <Line data={pts(cotCmIdx, cotCmVal)} dataKey="v" type="linear" stroke="#a81010" strokeWidth={3} dot={false} activeDot={false} isAnimationActive={false} />
          <ReferenceLine y={10.2} stroke="none" label={priceTag("", "#6f93d8", "#fff")} />
          <ReferenceLine y={-10.4} stroke="none" label={priceTag("", "#ff0000", "#fff")} />
          <ReferenceLine y={3.353} stroke="none" label={priceTag("3353", "#32cd32", "#000")} />
        </ComposedChart>
      </div>

      {/* panel separators */}
      <div style={{ position: "absolute", left: 0, top: 721, width: 1904, height: 2, background: "#d0d0d0" }} />
      <div style={{ position: "absolute", left: 0, top: 780, width: 1904, height: 2, background: "#d0d0d0" }} />
      <div style={{ position: "absolute", left: 0, top: 865, width: 1904, height: 2, background: "#d0d0d0" }} />

      {/* header */}
      <div style={{ position: "absolute", left: 5, top: 5, fontSize: 12, color: "#b4b4b4", lineHeight: "14px" }}>8/11/2025 - 1/13/2026</div>
      <div style={{ position: "absolute", left: 7, top: 18, width: 245, height: 60, background: "rgba(0,0,0,0.55)" }} />
      <div style={{ position: "absolute", left: 11, top: 20, fontSize: 24, lineHeight: "27px", color: "#fff", textShadow: "0 0 2px #000, 1px 1px 0 #000, -1px -1px 0 #000", whiteSpace: "pre" }}>
        {"Japanese Yen Futures\n6J 03-26 (Daily)"}
      </div>

      <div style={{ ...textBox, left: 1756, top: 7, width: 69, height: 393, paddingLeft: 3, paddingTop: 3, background: "#0e0e0e" }}>
        {swingLines.join("\n")}
      </div>
      <div style={{ ...textBox, left: 7, top: 376, width: 68, height: 337, paddingLeft: 3, paddingTop: 3, background: "#000" }}>
        {benchLines.join("\n")}
      </div>

      {/* COT legend */}
      <div style={{ position: "absolute", left: 8, top: 891, fontSize: 11, color: "#5a8ae0", whiteSpace: "pre" }}>Non-commercial net (large speculators)</div>
      <div style={{ position: "absolute", left: 8, top: 904, fontSize: 11, color: "#ff1a1a", whiteSpace: "pre" }}>Commercial net</div>
      <div style={{ position: "absolute", left: 8, top: 916, fontSize: 11, color: "#2ecc2e", whiteSpace: "pre" }}>Nonreportable positions net (small speculators)</div>
      <div style={{ position: "absolute", left: 5, top: 911, fontSize: 11, color: "#d8d8d8", whiteSpace: "pre" }}>© 2026 NinjaTrader, LLC</div>

      <div style={{ position: "absolute", left: 7, top: 963, fontSize: 10, color: "#cfcfcf" }}>6J 03-26</div>
      <div style={{ position: "absolute", left: 1790, top: 959, fontSize: 15, fontWeight: 700, color: "#e8502a", letterSpacing: 0.6 }}>NINJATRADER</div>
    </div>
  );
}
